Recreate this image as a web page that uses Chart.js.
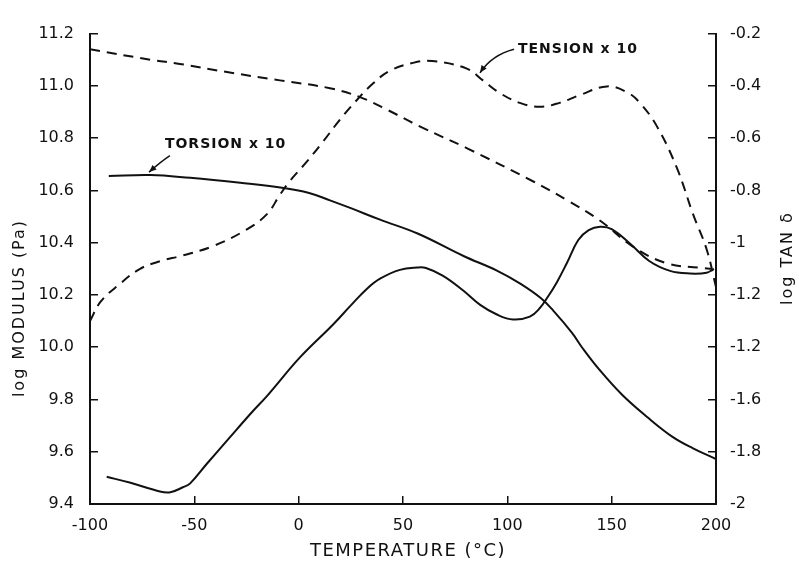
<!DOCTYPE html>
<html>
<head>
<meta charset="utf-8">
<script src="https://cdn.jsdelivr.net/npm/chart.js@4.4.1/dist/chart.umd.min.js"></script>
<style>
  html, body { margin: 0; padding: 0; background: #fff; }
</style>
</head>
<body>
<canvas id="chart" width="799" height="567"></canvas>
<script>
// temperatures (°C) and values
const tensionModT = [-100, -71, -57, -33, -9, 15, 29.4, 42.3, 58, 81, 112, 129, 144, 160, 176, 192, 198];
const tensionMod  = [11.14, 11.10, 11.084, 11.051, 11.021, 10.991, 10.957, 10.909, 10.845, 10.76, 10.636, 10.561, 10.487, 10.386, 10.322, 10.304, 10.30];

const torsionModT = [-91, -71, -52, -28, -8, 5, 15, 25, 39, 57, 79, 95, 106, 116, 122, 131, 136, 144, 155, 167, 179, 189, 200];
const torsionMod  = [10.655, 10.659, 10.648, 10.629, 10.61, 10.59, 10.562, 10.532, 10.488, 10.435, 10.349, 10.293, 10.244, 10.188, 10.14, 10.055, 9.997, 9.915, 9.818, 9.733, 9.658, 9.613, 9.572];

const tensionTanT = [-100, -95, -86, -76, -66, -56, -41, -25, -15.2, -9, -4.2, 4, 11.6, 19.8, 27.9, 35.6, 43.7, 54.8, 64, 80.6, 88.3, 96.5, 106, 115.6, 125, 134.8, 147.7, 157.3, 163.5, 171.7, 181.3, 189, 195.5, 200];
const tensionTan  = [-1.30, -1.227, -1.16, -1.10, -1.07, -1.05, -1.013, -0.95, -0.891, -0.817, -0.764, -0.689, -0.614, -0.529, -0.454, -0.391, -0.342, -0.312, -0.305, -0.334, -0.379, -0.428, -0.465, -0.48, -0.465, -0.435, -0.402, -0.424, -0.465, -0.555, -0.715, -0.891, -1.025, -1.17];

const torsionTanT = [-92, -81, -66.5, -61.5, -55.5, -52, -44, -33, -22, -15, 0.5, 16.5, 25, 32.5, 39, 48.5, 57, 61, 69, 78.7, 87, 95, 102.7, 110.8, 115.6, 119, 123.7, 128.6, 134, 139, 144.5, 150, 159, 168, 178, 187.5, 195.5, 199];
const torsionTan  = [-1.896, -1.918, -1.952, -1.955, -1.936, -1.921, -1.846, -1.745, -1.645, -1.585, -1.44, -1.313, -1.24, -1.178, -1.138, -1.104, -1.095, -1.097, -1.126, -1.182, -1.238, -1.275, -1.294, -1.283, -1.25, -1.212, -1.152, -1.077, -0.99, -0.952, -0.939, -0.948, -1.005, -1.07, -1.108, -1.118, -1.115, -1.10];

// tick labels as printed (the -1.4 position is printed "-1.2" in the figure)
const xTickValues = [-100, -50, 0, 50, 100, 150, 200];
const xTickLabels = ['-100', '-50', '0', '50', '100', '150', '200'];
const yTickValues = [11.2, 11.0, 10.8, 10.6, 10.4, 10.2, 10.0, 9.8, 9.6, 9.4];
const yTickLabels = ['11.2', '11.0', '10.8', '10.6', '10.4', '10.2', '10.0', '9.8', '9.6', '9.4'];
const y2TickValues = [-0.2, -0.4, -0.6, -0.8, -1.0, -1.2, -1.4, -1.6, -1.8, -2.0];
const y2TickLabels = ['-0.2', '-0.4', '-0.6', '-0.8', '-1', '-1.2', '-1.2', '-1.6', '-1.8', '-2'];

const xTitle = 'TEMPERATURE (°C)';
const yTitle = 'log MODULUS (Pa)';
const y2Title = 'log TAN δ';

// curve labels, positioned in data units
const notes = [
  { text: 'TORSION x 10', x: -64.1, y: 10.778, from: [-61.7, 10.733], ctrl: [-66, 10.71], to: [-71.7, 10.67] },
  { text: 'TENSION x 10', x: 105.1, y: 11.14, from: [103.2, 11.14], ctrl: [92.6, 11.118], to: [86.9, 11.05] }
];

const ink = '#111';
const FONT = 'DejaVu Sans';

function pts(xs, ys) {
  return xs.map((x, i) => ({ x, y: ys[i] }));
}

function labelFor(values, labels) {
  return v => {
    const i = values.findIndex(t => Math.abs(t - v) < 1e-6);
    return i >= 0 ? labels[i] : '';
  };
}

const lineStyle = {
  borderColor: ink,
  borderWidth: 2,
  pointRadius: 0,
  fill: false,
  tension: 0.4
};

const axisGrid = { drawOnChartArea: false, tickLength: -8, color: ink, lineWidth: 1.5 };
const axisBorder = { color: ink, width: 2 };

const decor = {
  id: 'decor',
  afterDraw(chart) {
    const { ctx, chartArea, scales } = chart;
    const px = v => scales.x.getPixelForValue(v);
    const py = v => scales.y.getPixelForValue(v);
    ctx.save();
    ctx.fillStyle = ink;
    ctx.strokeStyle = ink;
    ctx.textAlign = 'center';
    ctx.textBaseline = 'middle';

    // axis titles
    ctx.font = `18px "${FONT}"`;
    ctx.letterSpacing = '1.5px';
    ctx.fillText(xTitle, (chartArea.left + chartArea.right) / 2 + 5, chart.height - 16);

    ctx.font = `16px "${FONT}"`;
    ctx.letterSpacing = '2px';
    ctx.save();
    ctx.translate(20, 308);
    ctx.rotate(-Math.PI / 2);
    ctx.fillText(yTitle, 0, 0);
    ctx.restore();

    ctx.save();
    ctx.translate(chart.width - 11, 258);
    ctx.rotate(-Math.PI / 2);
    ctx.fillText(y2Title, 0, 0);
    ctx.restore();

    // curve notes with arrows
    ctx.font = `bold 14px "${FONT}"`;
    ctx.letterSpacing = '1px';
    ctx.textAlign = 'left';
    ctx.lineWidth = 1.5;
    notes.forEach(n => {
      ctx.fillText(n.text, px(n.x), py(n.y));
      const x0 = px(n.from[0]), y0 = py(n.from[1]);
      const cx = px(n.ctrl[0]), cy = py(n.ctrl[1]);
      const x1 = px(n.to[0]), y1 = py(n.to[1]);
      ctx.beginPath();
      ctx.moveTo(x0, y0);
      ctx.quadraticCurveTo(cx, cy, x1, y1);
      ctx.stroke();
      const a = Math.atan2(y1 - cy, x1 - cx);
      ctx.beginPath();
      ctx.moveTo(x1, y1);
      ctx.lineTo(x1 - 8 * Math.cos(a - 0.4), y1 - 8 * Math.sin(a - 0.4));
      ctx.lineTo(x1 - 8 * Math.cos(a + 0.4), y1 - 8 * Math.sin(a + 0.4));
      ctx.closePath();
      ctx.fill();
    });
    ctx.restore();
  }
};

new Chart(document.getElementById('chart'), {
  type: 'line',
  data: {
    datasets: [
      { ...lineStyle, label: 'Tension modulus', data: pts(tensionModT, tensionMod), yAxisID: 'y', borderDash: [10, 7] },
      { ...lineStyle, label: 'Torsion modulus', data: pts(torsionModT, torsionMod), yAxisID: 'y' },
      { ...lineStyle, label: 'Tension tan δ', data: pts(tensionTanT, tensionTan), yAxisID: 'y2', borderDash: [10, 7] },
      { ...lineStyle, label: 'Torsion tan δ', data: pts(torsionTanT, torsionTan), yAxisID: 'y2' }
    ]
  },
  options: {
    responsive: false,
    animation: false,
    devicePixelRatio: 1,
    layout: { padding: { top: 22, left: 0, right: 0, bottom: 0 } },
    plugins: { legend: { display: false }, tooltip: { enabled: false } },
    scales: {
      x: {
        type: 'linear', min: -100, max: 200,
        ticks: { stepSize: 50, color: ink, font: { family: FONT, size: 16 }, padding: 20,
                 callback: labelFor(xTickValues, xTickLabels) },
        grid: axisGrid, border: axisBorder,
        afterFit: s => { s.height = 63; }
      },
      y: {
        position: 'left', min: 9.4, max: 11.2,
        ticks: { stepSize: 0.2, color: ink, font: { family: FONT, size: 16 }, padding: 24,
                 callback: labelFor(yTickValues, yTickLabels) },
        grid: axisGrid, border: axisBorder,
        afterFit: s => { s.width = 90; }
      },
      y2: {
        position: 'right', min: -2, max: -0.2,
        ticks: { stepSize: 0.2, color: ink, font: { family: FONT, size: 16 }, padding: 22,
                 callback: labelFor(y2TickValues, y2TickLabels) },
        grid: axisGrid, border: axisBorder,
        afterFit: s => { s.width = 83; }
      }
    }
  },
  plugins: [decor]
});
</script>
</body>
</html>
